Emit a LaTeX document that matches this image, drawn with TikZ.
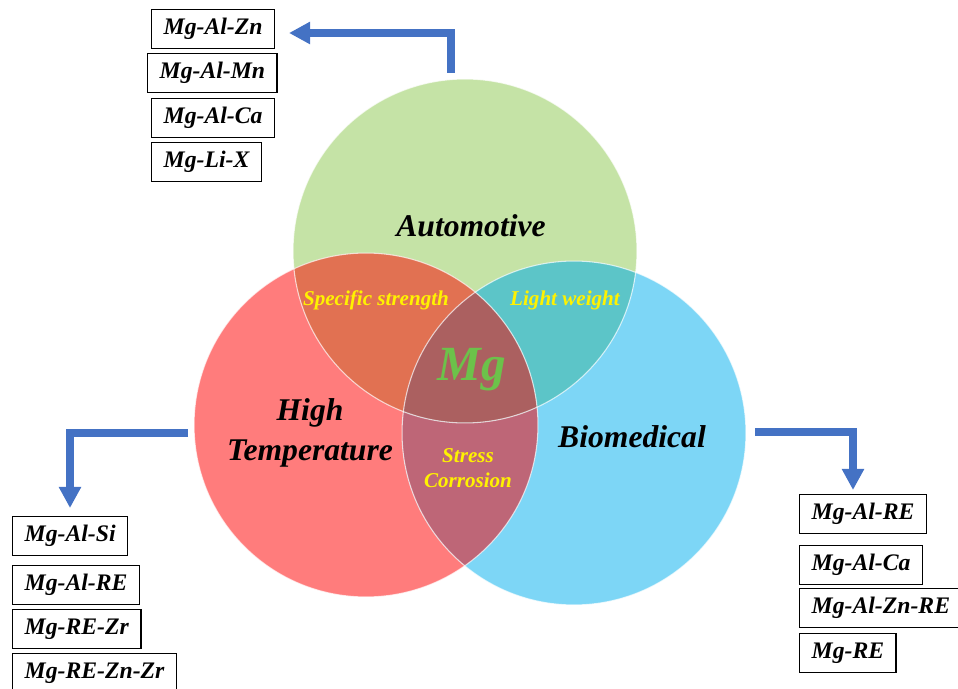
\documentclass[tikz,border=0pt]{standalone}
\usepackage{fontspec}
\setmainfont{Liberation Serif}
\usepackage{xcolor}
\usetikzlibrary{arrows.meta,positioning}
\definecolor{autogreen}{HTML}{C5E3A6}
\definecolor{tempred}{HTML}{FF7C7C}
\definecolor{bioblue}{HTML}{7DD6F6}
\definecolor{redgreen}{HTML}{E17152}
\definecolor{bluegreen}{HTML}{5CC5C8}
\definecolor{redblue}{HTML}{BE6677}
\definecolor{allthree}{HTML}{AB6060}
\definecolor{mggreen}{HTML}{6CC24A}
\definecolor{arrowblue}{HTML}{4472C4}

\begin{document}
\begin{tikzpicture}[x=0.02cm,y=-0.02cm,
  alloy/.style={draw,line width=0.8pt,fill=white,inner xsep=0.24cm,minimum height=0.78cm,anchor=west,font=\fontsize{13.5}{15}\selectfont\bfseries\itshape},
  field/.style={align=center,font=\fontsize{18}{22.7}\selectfont\bfseries\itshape},
  merit/.style={align=center,text=yellow,font=\fontsize{12}{14}\selectfont\bfseries\itshape},
  ring/.style={draw=white,draw opacity=0.7,line width=0.6pt},
  ar/.style={-{Triangle[width=12pt,length=12pt]},line width=4.5pt,draw=arrowblue}]
  \useasboundingbox (0,0) rectangle (958,689);
  % circle centres
  \coordinate (cg) at (465,251);
  \coordinate (cr) at (366,425);
  \coordinate (cb) at (574,433);
  \fill[autogreen] (cg) circle[radius=3.44cm];
  \fill[tempred] (cr) circle[radius=3.44cm];
  \fill[bioblue] (cb) circle[radius=3.44cm];
  % overlaps
  \begin{scope}
    \clip (cr) circle[radius=3.44cm];
    \fill[redgreen] (cg) circle[radius=3.44cm];
    \fill[redblue] (cb) circle[radius=3.44cm];
    \clip (cg) circle[radius=3.44cm];
    \fill[allthree] (cb) circle[radius=3.44cm];
  \end{scope}
  \begin{scope}
    \clip (cb) circle[radius=3.44cm];
    \clip (cg) circle[radius=3.44cm];
    \fill[bluegreen, even odd rule] (cg) circle[radius=3.44cm] (cr) circle[radius=3.44cm];
  \end{scope}
  \draw[ring] (cg) circle[radius=3.44cm];
  \draw[ring] (cr) circle[radius=3.44cm];
  \draw[ring] (cb) circle[radius=3.44cm];
  % labels
  \node[field] (auto) at (471,226) {Automotive};
  \node[field] (temp) at (310,433) {High\\Temperature};
  \node[field] (bio) at (632,437) {Biomedical};
  \node[merit] (spec) at (376,300) {Specific strength};
  \node[merit] (light) at (565,300) {Light weight};
  \node[merit] (stress) at (468,468) {Stress\\Corrosion};
  \node[text=mggreen,font=\fontsize{28}{30}\selectfont\bfseries\itshape] (mg) at (472,370) {Mg};
  % alloy lists
  \node[alloy] (zn) at (151,29) {Mg-Al-Zn};
  \node[alloy] (mn) at (147,73) {Mg-Al-Mn};
  \node[alloy] (ca) at (151,118) {Mg-Al-Ca};
  \node[alloy] (li) at (151,162) {Mg-Li-X};
  \node[alloy] (si) at (12,536) {Mg-Al-Si};
  \node[alloy] (alre) at (12,585) {Mg-Al-RE};
  \node[alloy] (rezr) at (12,629) {Mg-RE-Zr};
  \node[alloy] (reznzr) at (12,673) {Mg-RE-Zn-Zr};
  \node[alloy] (balre) at (799,514) {Mg-Al-RE};
  \node[alloy] (balca) at (799,565) {Mg-Al-Ca};
  \node[alloy] (bznre) at (799,608) {Mg-Al-Zn-RE};
  \node[alloy] (bre) at (799,653) {Mg-RE};
  % arrows
  \coordinate (auto-out) at (451,73);
  \coordinate (auto-in) at (289,33);
  \coordinate (temp-out) at (188,433);
  \coordinate (temp-in) at (70,508);
  \coordinate (bio-out) at (755,432);
  \coordinate (bio-in) at (853,490);
  \draw[ar] (auto-out) |- (auto-in);
  \draw[ar] (temp-out) -| (temp-in);
  \draw[ar] (bio-out) -| (bio-in);
\end{tikzpicture}
\end{document}
